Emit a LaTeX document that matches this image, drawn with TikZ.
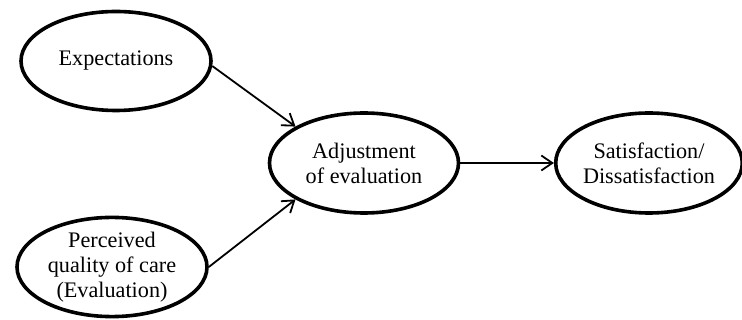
\documentclass[tikz,border=0pt]{standalone}
\usepackage{fontspec}
\setmainfont{Liberation Serif}
\usetikzlibrary{shapes.geometric,arrows.meta}

\begin{document}
\begin{tikzpicture}[
    x=1pt, y=-1pt,
    blob/.style={ellipse, draw, line width=3.6pt, minimum width=190pt, minimum height=99pt,
      inner sep=0pt, align=center, font=\fontsize{22.2}{25}\selectfont},
    link/.style={line width=1.8pt, -{Straight Barb[length=11pt, width=15pt, line width=1.8pt]}}
  ]
\useasboundingbox (0,0) rectangle (742,320);

% Ellipses
\node[blob] (expect) at (116,61) {Expectations};
\node[blob, minimum height=97pt] (perc) at (112,267) {Perceived\\quality of care\\(Evaluation)};
\node[blob, minimum width=189pt, minimum height=100pt] (adjust) at (364,163) {Adjustment\\of evaluation};
\node[blob, minimum width=181pt, minimum height=100pt] (satis) at (649,163) {Satisfaction/\\Dissatisfaction};

% Arrows
\draw[link] (expect.-3) -- (adjust.152);
\draw[link] (perc.east) -- (adjust.208);
\draw[link] (adjust.east) -- (satis.west);

\end{tikzpicture}
\end{document}
